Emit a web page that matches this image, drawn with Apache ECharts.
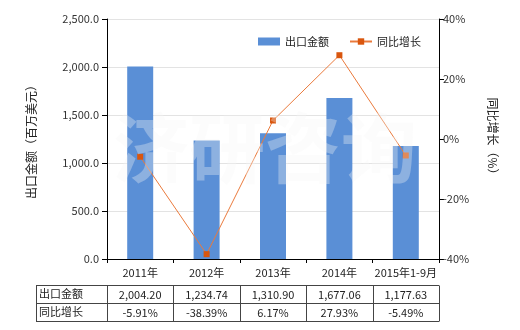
<!DOCTYPE html>
<html><head><meta charset="utf-8">
<script src="https://cdn.jsdelivr.net/npm/echarts@6/dist/echarts.min.js"></script>
<style>html,body{margin:0;padding:0;background:#fff}#c{width:520px;height:330px}</style>
</head><body><div id="c"></div>
<script>
var categories = ['2011年','2012年','2013年','2014年','2015年1-9月'];
var exportValues = [2004.20, 1234.74, 1310.90, 1677.06, 1177.63];
var growthValues = [-5.91, -38.39, 6.17, 27.93, -5.49];
var exportLabels = ['2,004.20','1,234.74','1,310.90','1,677.06','1,177.63'];
var growthLabels = ['-5.91%','-38.39%','6.17%','27.93%','-5.49%'];
var rowNames = ['出口金额','同比增长'];
var seriesNames = ['出口金额','同比增长'];
var leftAxisName = '出口金额（百万美元）';
var rightAxisName = '同比增长（%）';
var watermark = '济研咨询';

var FONT = '"Noto Sans CJK SC", sans-serif';
var chart = echarts.init(document.getElementById('c'));
var option = {
  animation: false,
  textStyle: {fontFamily: FONT},
  grid: {left: 107, right: 81, top: 19, bottom: 71},
  legend: {
    left: 253, top: 31, itemGap: 20, itemWidth: 22, itemHeight: 8,
    textStyle: {fontFamily: FONT, fontSize: 11, color: '#222'},
    data: [{name: seriesNames[0], icon: 'rect'}, {name: seriesNames[1]}]
  },
  xAxis: {
    type: 'category', data: categories,
    axisLine: {lineStyle: {color: '#000'}},
    axisTick: {show: true, length: 4, lineStyle: {color: '#000'}},
    axisLabel: {fontFamily: FONT, fontSize: 11, color: '#222', margin: 8, interval: 0}
  },
  yAxis: [{
    type: 'value', min: 0, max: 2500, interval: 500,
    name: leftAxisName, nameLocation: 'middle', nameGap: 70, nameRotate: 90,
    nameTextStyle: {fontFamily: FONT, fontSize: 12, color: '#222'},
    axisLine: {show: true, lineStyle: {color: '#000'}},
    axisTick: {show: true, length: 5, lineStyle: {color: '#000'}},
    axisLabel: {fontFamily: FONT, fontSize: 11, color: '#333', margin: 8,
      formatter: function(v){return v.toLocaleString('en-US',{minimumFractionDigits:1,maximumFractionDigits:1});}},
    splitLine: {show: true, lineStyle: {color: '#e3e3e3'}}
  }, {
    type: 'value', min: -40, max: 40, interval: 20, position: 'right',
    name: rightAxisName, nameLocation: 'middle', nameGap: 48, nameRotate: -90,
    nameTextStyle: {fontFamily: FONT, fontSize: 12, color: '#222'},
    axisLine: {show: true, lineStyle: {color: '#000'}},
    axisTick: {show: true, length: 5, lineStyle: {color: '#000'}},
    axisLabel: {fontFamily: FONT, fontSize: 11, color: '#333', margin: 4, formatter: '{value}%'},
    splitLine: {show: false}
  }],
  series: [{
    name: seriesNames[0], type: 'bar', data: exportValues, barWidth: 26,
    itemStyle: {color: '#5a8fd6'}
  }, {
    name: seriesNames[1], type: 'line', yAxisIndex: 1, data: growthValues,
    symbol: 'rect', symbolSize: 6,
    lineStyle: {color: '#ea7a3c', width: 1},
    itemStyle: {color: '#d9560e'}
  }]
};
chart.setOption(option);

// Table and watermark positioned from the chart's own scales
var x0 = chart.convertToPixel({xAxisIndex: 0}, 0);
var x1 = chart.convertToPixel({xAxisIndex: 0}, 1);
var band = x1 - x0;
var yBase = chart.convertToPixel({yAxisIndex: 0}, 0);
var tableLeft = 36;
var firstColRight = x0 - band / 2;
var tableRight = chart.convertToPixel({xAxisIndex: 0}, categories.length - 1) + band / 2;
var rowH = 18;
var top0 = yBase + 26;
var els = [];
var lineStyle = {stroke: '#444', lineWidth: 1};
for (var r = 0; r <= 2; r++) {
  var yy = Math.round(top0 + r * rowH) + 0.5;
  els.push({type: 'line', shape: {x1: tableLeft, y1: yy, x2: tableRight, y2: yy}, style: lineStyle, silent: true});
}
var vx = [tableLeft, firstColRight];
for (var i = 0; i < categories.length; i++) vx.push(chart.convertToPixel({xAxisIndex: 0}, i) + band / 2);
vx.forEach(function (x) {
  var xx = Math.round(x) + 0.5;
  els.push({type: 'line', shape: {x1: xx, y1: Math.round(top0) + 0.5, x2: xx, y2: Math.round(top0 + 2 * rowH) + 0.5}, style: lineStyle, silent: true});
});
var rows = [exportLabels, growthLabels];
rows.forEach(function (row, r) {
  var cy = top0 + r * rowH + rowH / 2;
  els.push({type: 'text', x: tableLeft + 3, y: cy, style: {text: rowNames[r], fill: '#222', font: '11px ' + FONT, textAlign: 'left', textVerticalAlign: 'middle'}});
  row.forEach(function (t, i) {
    els.push({type: 'text', x: chart.convertToPixel({xAxisIndex: 0}, i), y: cy + 1, style: {text: t, fill: '#222', font: '11px ' + FONT, textAlign: 'center', textVerticalAlign: 'middle'}});
  });
});
var wmCenter = (x0 + chart.convertToPixel({xAxisIndex: 0}, categories.length - 1)) / 2 - 8;
els.push({type: 'text', x: wmCenter, y: 148, z: 100, silent: true,
  style: {text: watermark, fill: 'rgba(246,246,246,0.33)', font: 'bold 76px ' + FONT, textAlign: 'center', textVerticalAlign: 'middle', letterSpacing: 10}});
chart.setOption({graphic: {elements: els}});
</script></body></html>
